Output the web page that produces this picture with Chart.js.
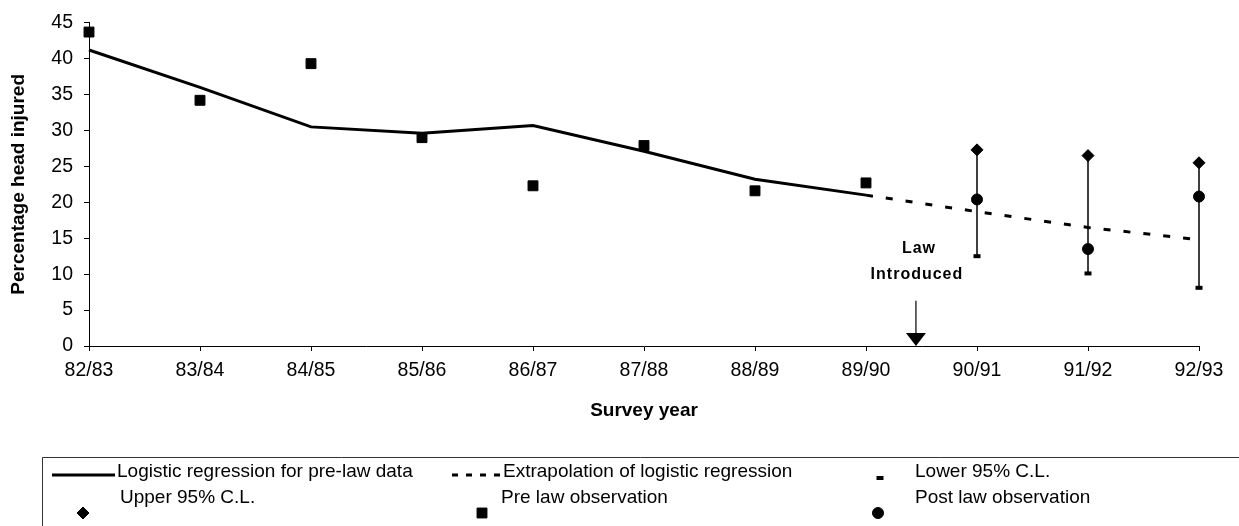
<!DOCTYPE html>
<html>
<head>
<meta charset="utf-8">
<script src="https://cdn.jsdelivr.net/npm/chart.js@4.4.1/dist/chart.umd.min.js"></script>
<style>
    html, body { margin: 0; padding: 0; background: #fff; }
    #wrap { width: 1239px; height: 526px; position: relative; }
</style>
</head>
<body>
<div id="wrap"><canvas id="headChart"></canvas></div>
<script>
const years = ['82/83', '83/84', '84/85', '85/86', '86/87', '87/88', '88/89', '89/90', '90/91', '91/92', '92/93'];
const preLawYears = ['82/83', '83/84', '84/85', '85/86', '86/87', '87/88', '88/89', '89/90'];
const postLawYears = ['90/91', '91/92', '92/93'];
const extrapolationYears = ['89/90', '90/91', '91/92', '92/93'];

const regression = [41.2, 36.0, 30.5, 29.6, 30.7, 27.1, 23.2, 21.0];
const extrapolation = [21.0, 18.7, 16.5, 14.8];
const preLawObs = [43.7, 34.2, 39.3, 29.0, 22.3, 27.9, 21.6, 22.7];
const postLawObs = [20.4, 13.5, 20.8];
const upperCL = [27.3, 26.5, 25.5];
const lowerCL = [12.5, 10.1, 8.1];

const lawAt = 7.45;            // between 89/90 and 90/91
const lawText = ['Law', 'Introduced'];

const FONT = "'Liberation Sans', Arial, sans-serif";
const INK = '#000';

function toPoints(labels, values) {
    return values.map((v, i) => ({ x: years.indexOf(labels[i]), y: v }));
}

const ciBars = postLawYears.flatMap((yr, i) => {
    const x = years.indexOf(yr);
    return [{ x: x, y: upperCL[i] }, { x: x, y: lowerCL[i] }, { x: x, y: null }];
});

const datasets = [
    { label: 'Logistic regression for pre-law data', data: toPoints(preLawYears, regression),
      borderColor: INK, borderWidth: 3, pointRadius: 0, tension: 0 },
    { label: 'Extrapolation of logistic regression', data: toPoints(extrapolationYears, extrapolation),
      borderColor: INK, borderWidth: 3, borderDash: [7, 13], pointRadius: 0, tension: 0 },
    { label: 'Lower 95% C.L.', data: toPoints(postLawYears, lowerCL), showLine: false,
      pointStyle: 'line', pointRadius: 3.5, borderWidth: 4, borderColor: INK, backgroundColor: INK },
    { label: 'Upper 95% C.L.', data: toPoints(postLawYears, upperCL), showLine: false,
      pointStyle: 'rectRot', pointRadius: 6, borderWidth: 1, borderColor: INK, backgroundColor: INK },
    { label: 'Pre law observation', data: toPoints(preLawYears, preLawObs), showLine: false,
      pointStyle: 'rect', pointRadius: 7, borderWidth: 1, borderColor: INK, backgroundColor: INK },
    { label: 'Post law observation', data: toPoints(postLawYears, postLawObs), showLine: false,
      pointStyle: 'circle', pointRadius: 5.5, borderWidth: 1, borderColor: INK, backgroundColor: INK },
    { label: 'ci', data: ciBars, borderColor: INK, borderWidth: 1.5, pointRadius: 0, spanGaps: false, tension: 0 }
];
datasets.forEach(d => { d.clip = false; });

// legend slots: dataset index, symbol position, text start
const legendSlots = [
    { ds: 0, kind: 'line', x1: 52, x2: 115, sy: 475, tx: 117, ty: 472 },
    { ds: 1, kind: 'dash', x1: 452, x2: 500, sy: 475, tx: 503, ty: 472 },
    { ds: 2, kind: 'point', sx: 880, sy: 478, tx: 915, ty: 472 },
    { ds: 3, kind: 'point', sx: 83, sy: 513, tx: 120, ty: 498 },
    { ds: 4, kind: 'point', sx: 482, sy: 513, tx: 501, ty: 498 },
    { ds: 5, kind: 'point', sx: 878, sy: 513, tx: 915, ty: 498 }
];

const lawPlugin = {
    id: 'lawArrow',
    afterDatasetsDraw(chart) {
        const ctx = chart.ctx;
        const xs = chart.scales.x, ys = chart.scales.y;
        const px = xs.getPixelForValue(lawAt);
        const tip = ys.getPixelForValue(0);
        const top = ys.getPixelForValue(6.3);
        ctx.save();
        ctx.strokeStyle = INK;
        ctx.fillStyle = INK;
        ctx.lineWidth = 1.2;
        ctx.beginPath();
        ctx.moveTo(px, top);
        ctx.lineTo(px, tip - 12);
        ctx.stroke();
        ctx.beginPath();
        ctx.moveTo(px - 10, tip - 13);
        ctx.lineTo(px + 10, tip - 13);
        ctx.lineTo(px, tip);
        ctx.closePath();
        ctx.fill();

        ctx.font = 'bold 16px ' + FONT;
        ctx.letterSpacing = '1px';
        ctx.textAlign = 'center';
        ctx.textBaseline = 'middle';
        ctx.fillText(lawText[0], px + 3, ys.getPixelForValue(13.6));
        ctx.fillText(lawText[1], px + 1, ys.getPixelForValue(9.9));
        ctx.restore();
    }
};

const legendPlugin = {
    id: 'boxLegend',
    afterDraw(chart) {
        const ctx = chart.ctx;
        const ds = chart.data.datasets;
        ctx.save();
        ctx.strokeStyle = '#333';
        ctx.lineWidth = 1;
        ctx.beginPath();
        ctx.moveTo(chart.width, 457.5);
        ctx.lineTo(42.5, 457.5);
        ctx.lineTo(42.5, chart.height);
        ctx.stroke();

        ctx.font = '19px ' + FONT;
        ctx.textBaseline = 'middle';
        ctx.textAlign = 'left';
        legendSlots.forEach(slot => {
            const d = ds[slot.ds];
            ctx.strokeStyle = INK;
            ctx.fillStyle = INK;
            if (slot.kind === 'line' || slot.kind === 'dash') {
                ctx.lineWidth = 3;
                ctx.setLineDash(slot.kind === 'dash' ? [6, 8] : []);
                ctx.beginPath();
                ctx.moveTo(slot.x1, slot.sy);
                ctx.lineTo(slot.x2, slot.sy);
                ctx.stroke();
                ctx.setLineDash([]);
            } else {
                ctx.lineWidth = d.borderWidth;
                Chart.helpers.drawPoint(ctx, {
                    pointStyle: d.pointStyle, radius: d.pointRadius,
                    rotation: 0, borderWidth: d.borderWidth
                }, slot.sx, slot.sy);
            }
            ctx.fillText(d.label, slot.tx, slot.ty);
        });
        ctx.restore();
    }
};

new Chart(document.getElementById('headChart'), {
    type: 'line',
    data: { datasets: datasets },
    options: {
        responsive: true,
        maintainAspectRatio: false,
        animation: false,
        layout: { padding: { top: 20, right: 40, bottom: 96, left: 0 } },
        plugins: { legend: { display: false }, tooltip: { enabled: false } },
        scales: {
            x: {
                type: 'linear', min: 0, max: 10,
                afterFit: (s) => { s.height = 84; },
                border: { color: INK, width: 1 },
                grid: { drawOnChartArea: false, color: INK, tickLength: 5 },
                ticks: {
                    stepSize: 1, autoSkip: false, maxRotation: 0, padding: 8,
                    color: INK, font: { family: FONT, size: 19.5 },
                    callback: (v) => years[v]
                },
                title: { display: true, text: 'Survey year', color: INK,
                    font: { family: FONT, size: 19, weight: 'bold' }, padding: { top: 0, bottom: 8 } }
            },
            y: {
                min: 0, max: 45,
                afterFit: (s) => { s.width = 89; },
                border: { color: INK, width: 1 },
                grid: { drawOnChartArea: false, color: INK, tickLength: 5 },
                ticks: { stepSize: 5, padding: 11, color: INK, font: { family: FONT, size: 19.5 } },
                title: { display: true, text: 'Percentage head injured', color: INK,
                    font: { family: FONT, size: 19, weight: 'bold' }, padding: { top: 7, bottom: 0 } }
            }
        }
    },
    plugins: [lawPlugin, legendPlugin]
});
</script>
</body>
</html>
